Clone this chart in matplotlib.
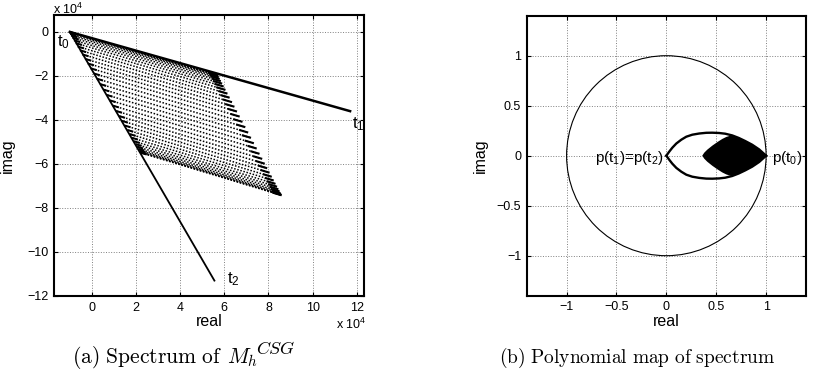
"""Spectrum of M_h^CSG (left) and its polynomial map (right)."""

import matplotlib.pyplot as plt
from matplotlib.patches import Circle
import numpy as np

# ---- left panel data (units of 1e4) ----
T0 = (-1.0, 0.0)
T1 = (11.7, -3.6)
T2 = (5.55, -11.3)
# corners of the dotted block: top-right, lower-left, far corner
CORNER_TR = (5.65, -1.95)
CORNER_LL = (2.25, -5.5)
CORNER_FC = (8.55, -7.41)
# relative position of each row of eigenvalues between t0-t1 edge and the far edge
ROW_FRAC = [0.0, 0.002, 0.008, 0.018, 0.032, 0.050, 0.071, 0.095, 0.123,
            0.154, 0.188, 0.225, 0.263, 0.303, 0.345, 0.389, 0.433, 0.478,
            0.522, 0.567, 0.611, 0.655, 0.697, 0.737, 0.775, 0.812, 0.846,
            0.877, 0.905, 0.929, 0.950, 0.968, 0.982, 0.992, 0.998, 1.0]

# ---- right panel data ----
EYE_X = [0.0, 0.03, 0.06, 0.10, 0.15, 0.20, 0.26, 0.33, 0.40, 0.46, 0.53,
         0.59, 0.66, 0.725, 0.79, 0.86, 0.93, 1.0]
EYE_Y = [0.0, 0.042, 0.08, 0.122, 0.16, 0.19, 0.21, 0.222, 0.229, 0.23,
         0.227, 0.22, 0.203, 0.178, 0.147, 0.11, 0.063, 0.0]
LENS_X = [0.36, 0.38, 0.41, 0.46, 0.51, 0.56, 0.60, 0.64, 0.66, 0.725,
          0.79, 0.86, 0.93, 1.0]
LENS_Y = [0.0, 0.03, 0.06, 0.10, 0.135, 0.167, 0.187, 0.20, 0.203, 0.178,
          0.147, 0.11, 0.063, 0.0]

LEFT_TICKS_X = [0, 2, 4, 6, 8, 10, 12]
LEFT_TICKS_Y = [-12, -10, -8, -6, -4, -2, 0]
RIGHT_TICKS = [-1, -0.5, 0, 0.5, 1]

plt.rcParams.update(
    {
        "font.family": ["Liberation Sans", "DejaVu Sans"],
        "font.size": 9,
        "mathtext.fontset": "custom",
        "mathtext.rm": "Liberation Sans",
        "mathtext.it": "Liberation Sans:italic",
        "xtick.direction": "in",
        "ytick.direction": "in",
        "xtick.top": True,
        "ytick.right": True,
        "xtick.major.size": 3,
        "ytick.major.size": 3,
        "axes.linewidth": 1.5,
    }
)


def style_axes(ax):
    ax.grid(True, color="0.5", linestyle=":", linewidth=0.7)
    ax.set_axisbelow(True)
    ax.tick_params(labelsize=9, width=0.8, pad=4)
    ax.set_xlabel("real", fontsize=11.5)
    ax.set_ylabel("imag", fontsize=11.5)
    ax.xaxis.set_label_coords(0.5, -0.065)


def draw_spectrum(ax):
    t0 = np.array(T0)
    tr = np.array(CORNER_TR)
    ll = np.array(CORNER_LL)
    fc = np.array(CORNER_FC)
    for b in ROW_FRAC:
        start = t0 + b * (ll - t0)
        end = tr + b * (fc - tr)
        ax.plot([start[0], end[0]], [start[1], end[1]], color="k",
                linewidth=1.1, linestyle=(0, (1.0, 1.1)))
        # eigenvalues cluster near both ends of each row
        tail = start + 0.95 * (end - start)
        ax.plot([tail[0], end[0]], [tail[1], end[1]], color="k", linewidth=1.5)
        head = start + 0.03 * (end - start)
        ax.plot([start[0], head[0]], [start[1], head[1]], color="k", linewidth=1.4)

    ax.plot([T0[0], T1[0]], [T0[1], T1[1]], color="k", linewidth=1.8)
    ax.plot([T0[0], T2[0]], [T0[1], T2[1]], color="k", linewidth=1.3)

    ax.text(-1.6, -0.05, r"$\mathrm{t}_0$", fontsize=12, ha="left", va="top")
    ax.text(11.8, -3.8, r"$\mathrm{t}_1$", fontsize=12, ha="left", va="top")
    ax.text(6.1, -10.85, r"$\mathrm{t}_2$", fontsize=12, ha="left", va="top")

    ax.set_xlim(-1.72, 12.33)
    ax.set_ylim(-12, 0.77)
    ax.set_xticks(LEFT_TICKS_X)
    ax.set_yticks(LEFT_TICKS_Y)
    style_axes(ax)
    ax.yaxis.set_label_coords(-0.125, 0.5)


def draw_polymap(ax):
    ax.add_patch(Circle((0, 0), 1.0, fill=False, edgecolor="k", linewidth=0.8))

    eye_x = np.array(EYE_X)
    eye_y = np.array(EYE_Y)
    lens_x = np.array(LENS_X)
    lens_y = np.array(LENS_Y)

    ax.fill(np.concatenate([lens_x, lens_x[::-1]]),
            np.concatenate([lens_y, -lens_y[::-1]]), color="k", linewidth=0)
    ax.plot(eye_x, eye_y, color="k", linewidth=1.7)
    ax.plot(eye_x, -eye_y, color="k", linewidth=1.7)

    ax.text(-0.03, -0.02, r"p(t$_1$)=p(t$_2$)", fontsize=11, ha="right", va="center")
    ax.text(1.06, -0.02, r"p(t$_0$)", fontsize=11, ha="left", va="center")

    ax.set_xlim(-1.4, 1.4)
    ax.set_ylim(-1.4, 1.4)
    ax.set_xticks(RIGHT_TICKS)
    ax.set_yticks(RIGHT_TICKS)
    ax.set_xticklabels(["\u22121", "\u22120.5", "0", "0.5", "1"])
    ax.set_yticklabels(["\u22121", "\u22120.5", "0", "0.5", "1"])
    style_axes(ax)
    ax.yaxis.set_label_coords(-0.138, 0.5)


def px(x, y):
    return x / 819, 1 - y / 377


def main():
    fig = plt.figure(figsize=(8.19, 3.77), dpi=100)
    ax_left = fig.add_axes([54 / 819, 81 / 377, 310 / 819, 281 / 377])
    ax_right = fig.add_axes([526.7 / 819, 81.3 / 377, 279.3 / 819, 280 / 377])

    draw_spectrum(ax_left)
    draw_polymap(ax_right)

    fig.text(*px(53, 14), r"x 10$^4$", fontsize=9, ha="left", va="baseline")
    fig.text(*px(366, 329), r"x 10$^4$", fontsize=9, ha="right", va="baseline")

    # caption (a): plain part, then the larger matrix symbol
    fig.text(*px(222, 363), r"$\mathrm{(a)\ Spectrum\ of}$", fontsize=15.5,
             ha="right", va="baseline", math_fontfamily="cm")
    fig.text(*px(227, 363), r"$M_h$", fontsize=15.5,
             ha="left", va="baseline", math_fontfamily="cm")
    fig.text(*px(256, 354), r"$CSG$", fontsize=13,
             ha="left", va="baseline", math_fontfamily="cm")
    fig.text(*px(637, 363), r"$\mathrm{(b)\ Polynomial\ map\ of\ spectrum}$",
             fontsize=14, ha="center", va="baseline", math_fontfamily="cm")

    fig.savefig("out.png", dpi=100)
    plt.close(fig)


if __name__ == "__main__":
    main()
